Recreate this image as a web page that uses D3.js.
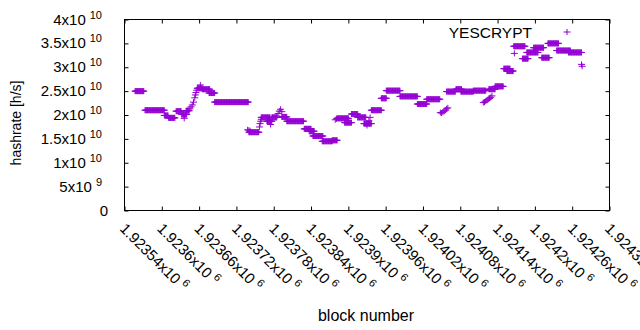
<!DOCTYPE html>
<html>
<head>
<meta charset="utf-8">
<script src="https://cdn.jsdelivr.net/npm/d3@7"></script>
<style>
  body { margin: 0; background: #fff; }
  text { font-family: "Liberation Sans", Arial, sans-serif; fill: #000; }
</style>
</head>
<body>
<div id="chart"></div>
<script>
const w = 640;
const h = 330;

// hashrate stays flat between difficulty changes: [first block, last block, hashrate]
const blockRuns = [
  [1923557, 1923571, 2.50e10], [1923573, 1923604, 2.10e10], [1923604, 1923610, 1.99e10],
  [1923611, 1923621, 1.94e10], [1923623, 1923631, 2.08e10], [1923632, 1923640, 2.01e10],
  [1923639, 1923644, 2.09e10], [1923657, 1923665, 2.56e10], [1923665, 1923677, 2.54e10],
  [1923676, 1923685, 2.46e10], [1923685, 1923739, 2.27e10], [1923740, 1923756, 1.64e10],
  [1923760, 1923774, 1.95e10], [1923769, 1923777, 1.87e10], [1923777, 1923785, 1.95e10],
  [1923793, 1923801, 1.96e10], [1923801, 1923828, 1.87e10], [1923829, 1923840, 1.71e10],
  [1923837, 1923845, 1.66e10], [1923843, 1923859, 1.56e10], [1923858, 1923874, 1.45e10],
  [1923874, 1923882, 1.47e10], [1923882, 1923900, 1.93e10], [1923894, 1923905, 1.84e10],
  [1923905, 1923915, 2.02e10], [1923915, 1923928, 1.95e10], [1923925, 1923937, 1.82e10],
  [1923937, 1923953, 2.10e10], [1923953, 1923961, 2.35e10], [1923961, 1923983, 2.51e10],
  [1923983, 1924011, 2.39e10], [1924011, 1924026, 2.23e10], [1924026, 1924047, 2.33e10],
  [1924058, 1924072, 2.49e10], [1924073, 1924082, 2.54e10], [1924081, 1924101, 2.49e10],
  [1924101, 1924121, 2.51e10], [1924126, 1924136, 2.54e10], [1924136, 1924149, 2.60e10],
  [1924150, 1924160, 2.97e10], [1924155, 1924165, 2.92e10], [1924166, 1924184, 3.44e10],
  [1924180, 1924189, 3.18e10], [1924187, 1924205, 3.31e10], [1924198, 1924214, 3.41e10],
  [1924211, 1924223, 3.20e10], [1924221, 1924238, 3.50e10], [1924235, 1924257, 3.35e10],
  [1924254, 1924275, 3.31e10]
];

// single blocks in between the runs: [block, hashrate]
const loosePoints = [
  [1923645, 2.13e10], [1923647, 2.17e10], [1923649, 2.21e10], [1923651, 2.27e10],
  [1923653, 2.36e10], [1923654, 2.42e10], [1923655, 2.47e10], [1923656, 2.52e10],
  [1923662, 2.63e10], [1923636, 1.93e10],
  [1923738, 1.69e10], [1923740, 1.68e10], [1923742, 1.67e10],
  [1923757, 1.75e10], [1923758, 1.82e10], [1923759, 1.87e10], [1923760, 1.91e10],
  [1923775, 1.80e10],
  [1923785, 1.98e10], [1923787, 2.03e10], [1923789, 2.08e10], [1923791, 2.12e10], [1923793, 2.07e10],
  [1923879, 1.90e10], [1923881, 1.92e10],
  [1923930, 1.78e10], [1923933, 1.88e10], [1923935, 1.95e10],
  [1924048, 2.05e10], [1924050, 2.04e10], [1924052, 2.06e10], [1924054, 2.08e10],
  [1924056, 2.10e10], [1924058, 2.13e10], [1924060, 2.15e10],
  [1924117, 2.26e10], [1924119, 2.27e10], [1924121, 2.29e10], [1924123, 2.31e10],
  [1924125, 2.33e10], [1924127, 2.35e10], [1924129, 2.37e10], [1924131, 2.40e10],
  [1924167, 3.29e10], [1924275, 3.06e10], [1924276, 3.02e10]
];

const xTicks = [1923540, 1923600, 1923660, 1923720, 1923780, 1923840, 1923900,
  1923960, 1924020, 1924080, 1924140, 1924200, 1924260, 1924320];
const yTicks = [0, 5e9, 1e10, 1.5e10, 2e10, 2.5e10, 3e10, 3.5e10, 4e10];
const seriesName = "YESCRYPT";
const color = "#9400d3";

const svg = d3.select("#chart")
  .append("svg")
  .attr("width", w)
  .attr("height", h);

const x = d3.scaleLinear().domain([1923540, 1924320]).range([124.5, 609.5]);
const y = d3.scaleLinear().domain([0, 4e10]).range([210.5, 19.5]);

// gnuplot style: mantissa x10^exp
function sciParts(v) {
  if (v === 0) return null;
  const e = Math.floor(Math.log10(v) + 1e-9);
  const m = +(v / Math.pow(10, e)).toPrecision(6);
  return [String(m) + "x10", String(e)];
}

// ticks, mirrored on all four sides
svg.append("g").attr("transform", "translate(0,210.5)")
  .call(d3.axisBottom(x).tickValues(xTicks).tickSize(-4).tickFormat(""));
svg.append("g").attr("transform", "translate(0,19.5)")
  .call(d3.axisTop(x).tickValues(xTicks).tickSize(-4).tickFormat(""));
svg.append("g").attr("transform", "translate(124.5,0)")
  .call(d3.axisLeft(y).tickValues(yTicks).tickSize(-4).tickFormat(""));
svg.append("g").attr("transform", "translate(609.5,0)")
  .call(d3.axisRight(y).tickValues(yTicks).tickSize(-4).tickFormat(""));
svg.selectAll(".domain").remove();
svg.selectAll(".tick line").attr("stroke", "#000");

svg.append("rect")
  .attr("x", 124.5).attr("y", 19.5)
  .attr("width", 485).attr("height", 191)
  .attr("fill", "none").attr("stroke", "#000");

// y labels
const yl = svg.selectAll(".ylab")
  .data(yTicks)
  .join("text")
  .attr("class", "ylab")
  .attr("x", (d) => d === 0 ? 108 : 102)
  .attr("y", (d) => y(d) + 5)
  .attr("text-anchor", "end")
  .style("font-size", "15px");
yl.each(function (d) {
  const p = sciParts(d);
  const t = d3.select(this);
  if (!p) { t.text("0"); return; }
  t.append("tspan").text(p[0]);
  t.append("tspan").attr("dx", 4).attr("dy", -6).style("font-size", "11px").text(p[1]);
});

// x labels, rotated
const xl = svg.selectAll(".xlab")
  .data(xTicks)
  .join("text")
  .attr("class", "xlab")
  .attr("transform", (d) => "translate(" + (x(d) - 2) + ",226) rotate(45)")
  .attr("y", 5)
  .style("font-size", "15px");
xl.each(function (d) {
  const p = sciParts(d);
  const t = d3.select(this);
  t.append("tspan").text(p[0]);
  t.append("tspan").attr("dx", 4).attr("dy", -6).style("font-size", "11px").text(p[1]);
});

// axis titles
svg.append("text")
  .attr("x", 366).attr("y", 321)
  .attr("text-anchor", "middle")
  .style("font-size", "16px")
  .text("block number");
svg.append("text")
  .attr("transform", "translate(21,123) rotate(-90)")
  .attr("text-anchor", "middle")
  .style("font-size", "14px")
  .text("hashrate [h/s]");

// points
const plus = "M-3.5,0H3.5M0,-3V3";
const points = blockRuns
  .flatMap(([s, e, v]) => d3.range(s, e + 1).map((b) => [b, v]))
  .concat(loosePoints);

svg.append("g")
  .selectAll("path")
  .data(points)
  .join("path")
  .attr("d", plus)
  .attr("transform", (d) => "translate(" + x(d[0]) + "," + y(d[1]) + ")")
  .attr("stroke", color)
  .attr("stroke-width", 1)
  .attr("fill", "none");

// key
svg.append("text")
  .attr("x", 532).attr("y", 38)
  .attr("text-anchor", "end")
  .style("font-size", "15.5px")
  .text(seriesName);
svg.append("path")
  .attr("d", plus)
  .attr("transform", "translate(567,32)")
  .attr("stroke", color)
  .attr("fill", "none");
</script>
</body>
</html>
